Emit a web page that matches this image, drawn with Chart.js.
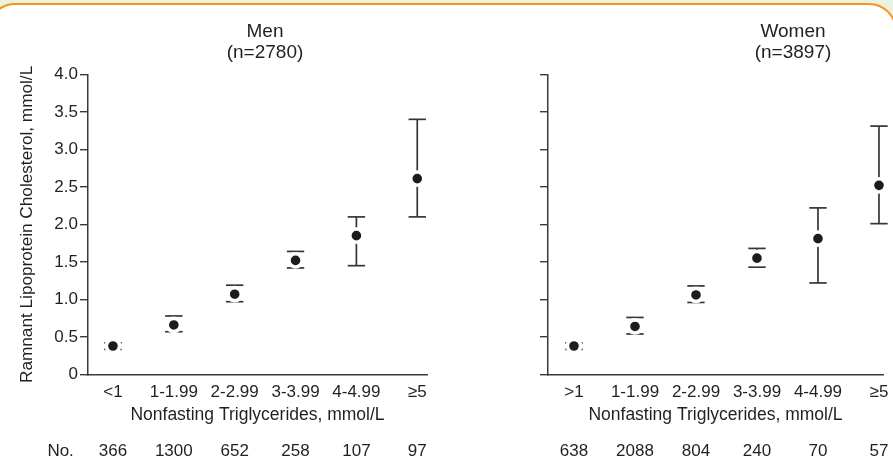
<!DOCTYPE html>
<html>
<head>
<meta charset="utf-8">
<script src="https://cdn.jsdelivr.net/npm/chart.js@4.4.1/dist/chart.umd.min.js"></script>
<style>
  html, body { margin: 0; padding: 0; width: 893px; height: 466px; overflow: hidden; background: #e9f3de; position: relative; }
  #frame { position: absolute; left: -13px; top: 3px; width: 910px; height: 520px; background: #ffffff;
           border: 2.5px solid #f7941d; border-radius: 28px; box-sizing: border-box; }
  canvas { position: absolute; top: 0; }
  #men { left: 0; }
  #women { left: 530px; }
</style>
</head>
<body>
<div id="frame"></div>
<canvas id="men" width="530" height="466"></canvas>
<canvas id="women" width="526" height="466"></canvas>
<script>
// ---- data ----
const menCategories   = ['<1', '1-1.99', '2-2.99', '3-3.99', '4-4.99', '≥5'];
const womenCategories = ['>1', '1-1.99', '2-2.99', '3-3.99', '4-4.99', '≥5'];

const menMean  = [0.38, 0.66, 1.07, 1.52, 1.85, 2.61];
const menLower = [0.335, 0.57, 0.97, 1.42, 1.45, 2.10];
const menUpper = [0.42, 0.78, 1.19, 1.64, 2.10, 3.40];
const menCounts = ['366', '1300', '652', '258', '107', '97'];

const womenMean  = [0.38, 0.64, 1.06, 1.55, 1.81, 2.52];
const womenLower = [0.335, 0.54, 0.96, 1.43, 1.22, 2.01];
const womenUpper = [0.42, 0.76, 1.18, 1.68, 2.22, 3.31];
const womenCounts = ['638', '2088', '804', '240', '70', '57'];

const yTickLabels = ['0', '0.5', '1.0', '1.5', '2.0', '2.5', '3.0', '3.5', '4.0'];
const menTitle   = ['Men', '(n=2780)'];
const womenTitle = ['Women', '(n=3897)'];
const yAxisTitle = 'Ramnant Lipoprotein Cholesterol, mmol/L';
const xAxisTitle = 'Nonfasting Triglycerides, mmol/L';
const countRowLabel = 'No.';

// ---- styling ----
const FONT = '"Liberation Sans", Arial, Helvetica, sans-serif';
const TEXT = '#231f20';
const AXIS = '#3a3a3a';
const WHISKER = '#363636';
const DOT = '#1c1c1c';

Chart.defaults.font.family = FONT;
Chart.defaults.color = TEXT;

const countLabelPlugin = {
  id: 'countLabel',
  afterDraw(chart, args, opts) {
    if (!opts.text) return;
    const x = chart.scales.x.getPixelForValue(opts.at);
    const x2 = chart.scales.x2;
    const ctx = chart.ctx;
    ctx.save();
    ctx.font = '17px ' + FONT;
    ctx.fillStyle = TEXT;
    ctx.textAlign = 'center';
    ctx.textBaseline = 'middle';
    ctx.fillText(opts.text, x, x2.top + x2.options.ticks.padding + 17 * 1.2 / 2);
    ctx.restore();
  }
};

function makePanel(canvasId, cfg) {
  const dots = cfg.cats.map((c, i) => ({ x: i, y: cfg.mean[i] }));
  const bars = [];
  cfg.cats.forEach((c, i) => {
    bars.push({ x: i, y: cfg.lower[i] });
    bars.push({ x: i, y: cfg.upper[i] });
    bars.push({ x: i, y: null });
  });
  const catTicks = (scale) => { scale.ticks = cfg.cats.map((c, i) => ({ value: i })); };

  return new Chart(document.getElementById(canvasId), {
    type: 'scatter',
    data: {
      datasets: [
        {
          data: dots,
          xAxisID: 'x', yAxisID: 'y',
          clip: false,
          showLine: false,
          pointStyle: 'circle',
          pointRadius: 6.6,
          pointBackgroundColor: DOT,
          pointBorderColor: '#ffffff',
          pointBorderWidth: 3.6,
          pointHoverRadius: 6.6,
          order: 0
        },
        {
          data: bars,
          xAxisID: 'x', yAxisID: 'y',
          clip: false,
          showLine: true,
          spanGaps: false,
          borderColor: WHISKER,
          borderWidth: 1.7,
          pointStyle: 'line',
          pointRadius: 8.7,
          pointHoverRadius: 8.7,
          pointBorderColor: WHISKER,
          pointBorderWidth: 1.7,
          order: 1
        }
      ]
    },
    options: {
      responsive: false,
      animation: false,
      events: [],
      layout: { padding: 0 },
      plugins: {
        legend: { display: false },
        tooltip: { enabled: false },
        title: {
          display: true,
          text: cfg.title,
          color: TEXT,
          font: { size: 19, weight: 'normal', lineHeight: 1.1 },
          padding: { top: 21.2, bottom: 11.3 }
        },
        countLabel: { text: cfg.countLabel, at: -0.86 }
      },
      scales: {
        x: {
          type: 'linear', position: 'bottom', weight: 0,
          min: cfg.xmin, max: cfg.xmax,
          afterBuildTicks: catTicks,
          ticks: { callback: (v, i) => cfg.cats[i], autoSkip: false, maxRotation: 0, font: { size: 17 }, color: TEXT, padding: 7.5 },
          grid: { display: false, drawTicks: false },
          border: { display: true, color: AXIS, width: 1.5 },
          title: { display: true, text: xAxisTitle, color: TEXT, font: { size: 17.5 }, padding: { top: 0, bottom: 2.8 } },
          afterFit: (s) => { s.height = 53.5; }
        },
        x2: {
          type: 'linear', position: 'bottom', weight: 1,
          min: cfg.xmin, max: cfg.xmax,
          afterBuildTicks: catTicks,
          ticks: { callback: (v, i) => cfg.counts[i], autoSkip: false, maxRotation: 0, font: { size: 17 }, color: TEXT, padding: 13 },
          grid: { display: false, drawTicks: false },
          border: { display: false },
          afterFit: (s) => { s.height = 38; }
        },
        y: {
          type: 'linear', position: 'left',
          min: 0, max: 4,
          ticks: {
            stepSize: 0.5,
            display: cfg.showYLabels,
            callback: (v, i) => yTickLabels[i],
            font: { size: 17 }, color: TEXT, padding: 2
          },
          grid: { display: true, drawOnChartArea: false, drawTicks: true, tickLength: 8, color: AXIS, lineWidth: 1.4 },
          border: { display: true, color: AXIS, width: 1.5 },
          title: { display: cfg.showYLabels, text: yAxisTitle, color: TEXT, font: { size: 17.2 }, padding: { top: 16.5, bottom: 0 } },
          afterFit: (s) => { s.width = cfg.yWidth; }
        },
        yR: {
          type: 'linear', position: 'right',
          min: 0, max: 4,
          ticks: { display: false },
          grid: { display: false, drawTicks: false },
          border: { display: false },
          afterFit: (s) => { s.width = cfg.rightPad; }
        }
      }
    },
    plugins: [countLabelPlugin]
  });
}

makePanel('men', {
  cats: menCategories, mean: menMean, lower: menLower, upper: menUpper, counts: menCounts,
  title: menTitle, countLabel: countRowLabel, showYLabels: true,
  xmin: -0.41, xmax: 5.16, yWidth: 88, rightPad: 103
});

makePanel('women', {
  cats: womenCategories, mean: womenMean, lower: womenLower, upper: womenUpper, counts: womenCounts,
  title: womenTitle, countLabel: null, showYLabels: false,
  xmin: -0.426, xmax: 5.066, yWidth: 18, rightPad: 173
});
</script>
</body>
</html>
